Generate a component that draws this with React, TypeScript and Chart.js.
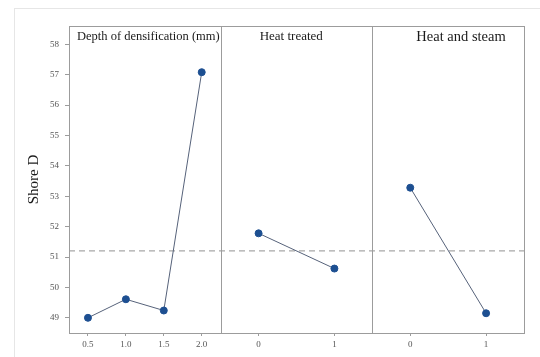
import React, { useEffect, useRef } from "react";
import { Chart, registerables } from "chart.js";

Chart.register(...registerables);

// ---- data ----
const depthLabels = ["0.5", "1.0", "1.5", "2.0"];
const depthMeans = [49.0, 49.61, 49.24, 57.08];
const heatLabels = ["0", "1"];
const heatMeans = [51.78, 50.62];
const steamLabels = ["0", "1"];
const steamMeans = [53.28, 49.15];
const grandMean = 51.2;
const panelTitles = ["Depth of densification (mm)", "Heat treated", "Heat and steam"];
const yMin = 48.5;
const yMax = 58.6;
const yTitle = "Shore D";

const SERIF = "'Liberation Serif', 'Times New Roman', serif";
const POINT = "#1d4f91";
const LINE = "#56627a";

const framePlugin = {
  id: "framePlugin",
  beforeDatasetsDraw(chart: any) {
    const { ctx, chartArea, scales } = chart;
    const { left, right, top, bottom } = chartArea;
    ctx.save();
    // dashed grand mean line
    const yp = scales.y.getPixelForValue(grandMean);
    ctx.strokeStyle = "#a8a8a8";
    ctx.lineWidth = 1.3;
    ctx.setLineDash([6, 4]);
    ctx.beginPath();
    ctx.moveTo(left, yp);
    ctx.lineTo(right, yp);
    ctx.stroke();
    ctx.setLineDash([]);
    // frame
    ctx.strokeStyle = "#9c9c9c";
    ctx.lineWidth = 1;
    ctx.strokeRect(Math.round(left) + 0.5, Math.round(top) + 0.5, Math.round(right - left), Math.round(bottom - top));
    // dividers
    ["x1", "x2"].forEach((id) => {
      const x = Math.round(scales[id].left) + 0.5;
      ctx.beginPath();
      ctx.moveTo(x, top);
      ctx.lineTo(x, bottom);
      ctx.stroke();
    });
    ctx.restore();
  },
  afterDraw(chart: any) {
    const { ctx, chartArea, scales } = chart;
    ctx.save();
    ctx.fillStyle = "#1a1a1a";
    ctx.textBaseline = "middle";
    ctx.textAlign = "left";
    const ty = chartArea.top + 11;
    ctx.font = `12.5px ${SERIF}`;
    ctx.fillText(panelTitles[0], scales.x0.left + 8, ty);
    ctx.font = `13px ${SERIF}`;
    ctx.fillText(panelTitles[1], scales.x1.left + 39, ty);
    ctx.font = `14.5px ${SERIF}`;
    ctx.fillText(panelTitles[2], scales.x2.left + 44, ty);
    ctx.restore();
  },
};

function xAxis(labels: string[]) {
  return {
    type: "category",
    position: "bottom",
    stack: "panels",
    stackWeight: 1,
    labels,
    offset: true,
    border: { display: false },
    grid: {
      display: true,
      drawOnChartArea: false,
      drawTicks: true,
      tickLength: 3,
      offset: false,
      color: "#9c9c9c",
    },
    ticks: {
      padding: 3,
      color: "#555",
      font: { family: SERIF, size: 9 },
      maxRotation: 0,
      autoSkip: false,
    },
    afterFit(scale: any) {
      scale.height = 24;
    },
  };
}

function dataset(data: number[], axis: string) {
  return {
    data,
    xAxisID: axis,
    yAxisID: "y",
    borderColor: LINE,
    borderWidth: 1,
    backgroundColor: POINT,
    pointBackgroundColor: POINT,
    pointBorderColor: POINT,
    pointRadius: 3.5,
    pointHoverRadius: 3.5,
    tension: 0,
    fill: false,
  };
}

export default function App() {
  const ref = useRef<HTMLCanvasElement | null>(null);

  useEffect(() => {
    if (!ref.current) return;
    const chart = new Chart(ref.current, {
      type: "line",
      data: {
        datasets: [
          dataset(depthMeans, "x0"),
          dataset(heatMeans, "x1"),
          dataset(steamMeans, "x2"),
        ] as any,
      },
      options: {
        animation: false,
        responsive: false,
        events: [],
        layout: { padding: { left: 0, right: 16, top: 17, bottom: 0 } },
        plugins: { legend: { display: false }, tooltip: { enabled: false } },
        scales: {
          x0: xAxis(depthLabels),
          x1: xAxis(heatLabels),
          x2: xAxis(steamLabels),
          y: {
            type: "linear",
            position: "left",
            min: yMin,
            max: yMax,
            border: { display: false },
            grid: {
              display: true,
              drawOnChartArea: false,
              drawTicks: true,
              tickLength: 4,
              color: "#9c9c9c",
            },
            ticks: {
              stepSize: 1,
              padding: 6,
              color: "#555",
              font: { family: SERIF, size: 9 },
            },
            title: {
              display: true,
              text: yTitle,
              color: "#1a1a1a",
              font: { family: SERIF, size: 15 },
              padding: { top: 10, bottom: 0 },
            },
            afterBuildTicks(scale: any) {
              scale.ticks = scale.ticks.filter((t: any) => Number.isInteger(t.value));
            },
            afterFit(scale: any) {
              scale.width = 54;
            },
          },
        } as any,
      },
      plugins: [framePlugin],
    });
    return () => chart.destroy();
  }, []);

  return (
    <div
      style={{
        position: "fixed",
        left: 14,
        top: 8,
        width: 526,
        height: 349,
        boxSizing: "border-box",
        borderTop: "1px solid #e6e6e6",
        borderLeft: "1px solid #e6e6e6",
        background: "#fff",
      }}
    >
      <canvas ref={ref} width={525} height={348} style={{ display: "block" }} />
    </div>
  );
}
